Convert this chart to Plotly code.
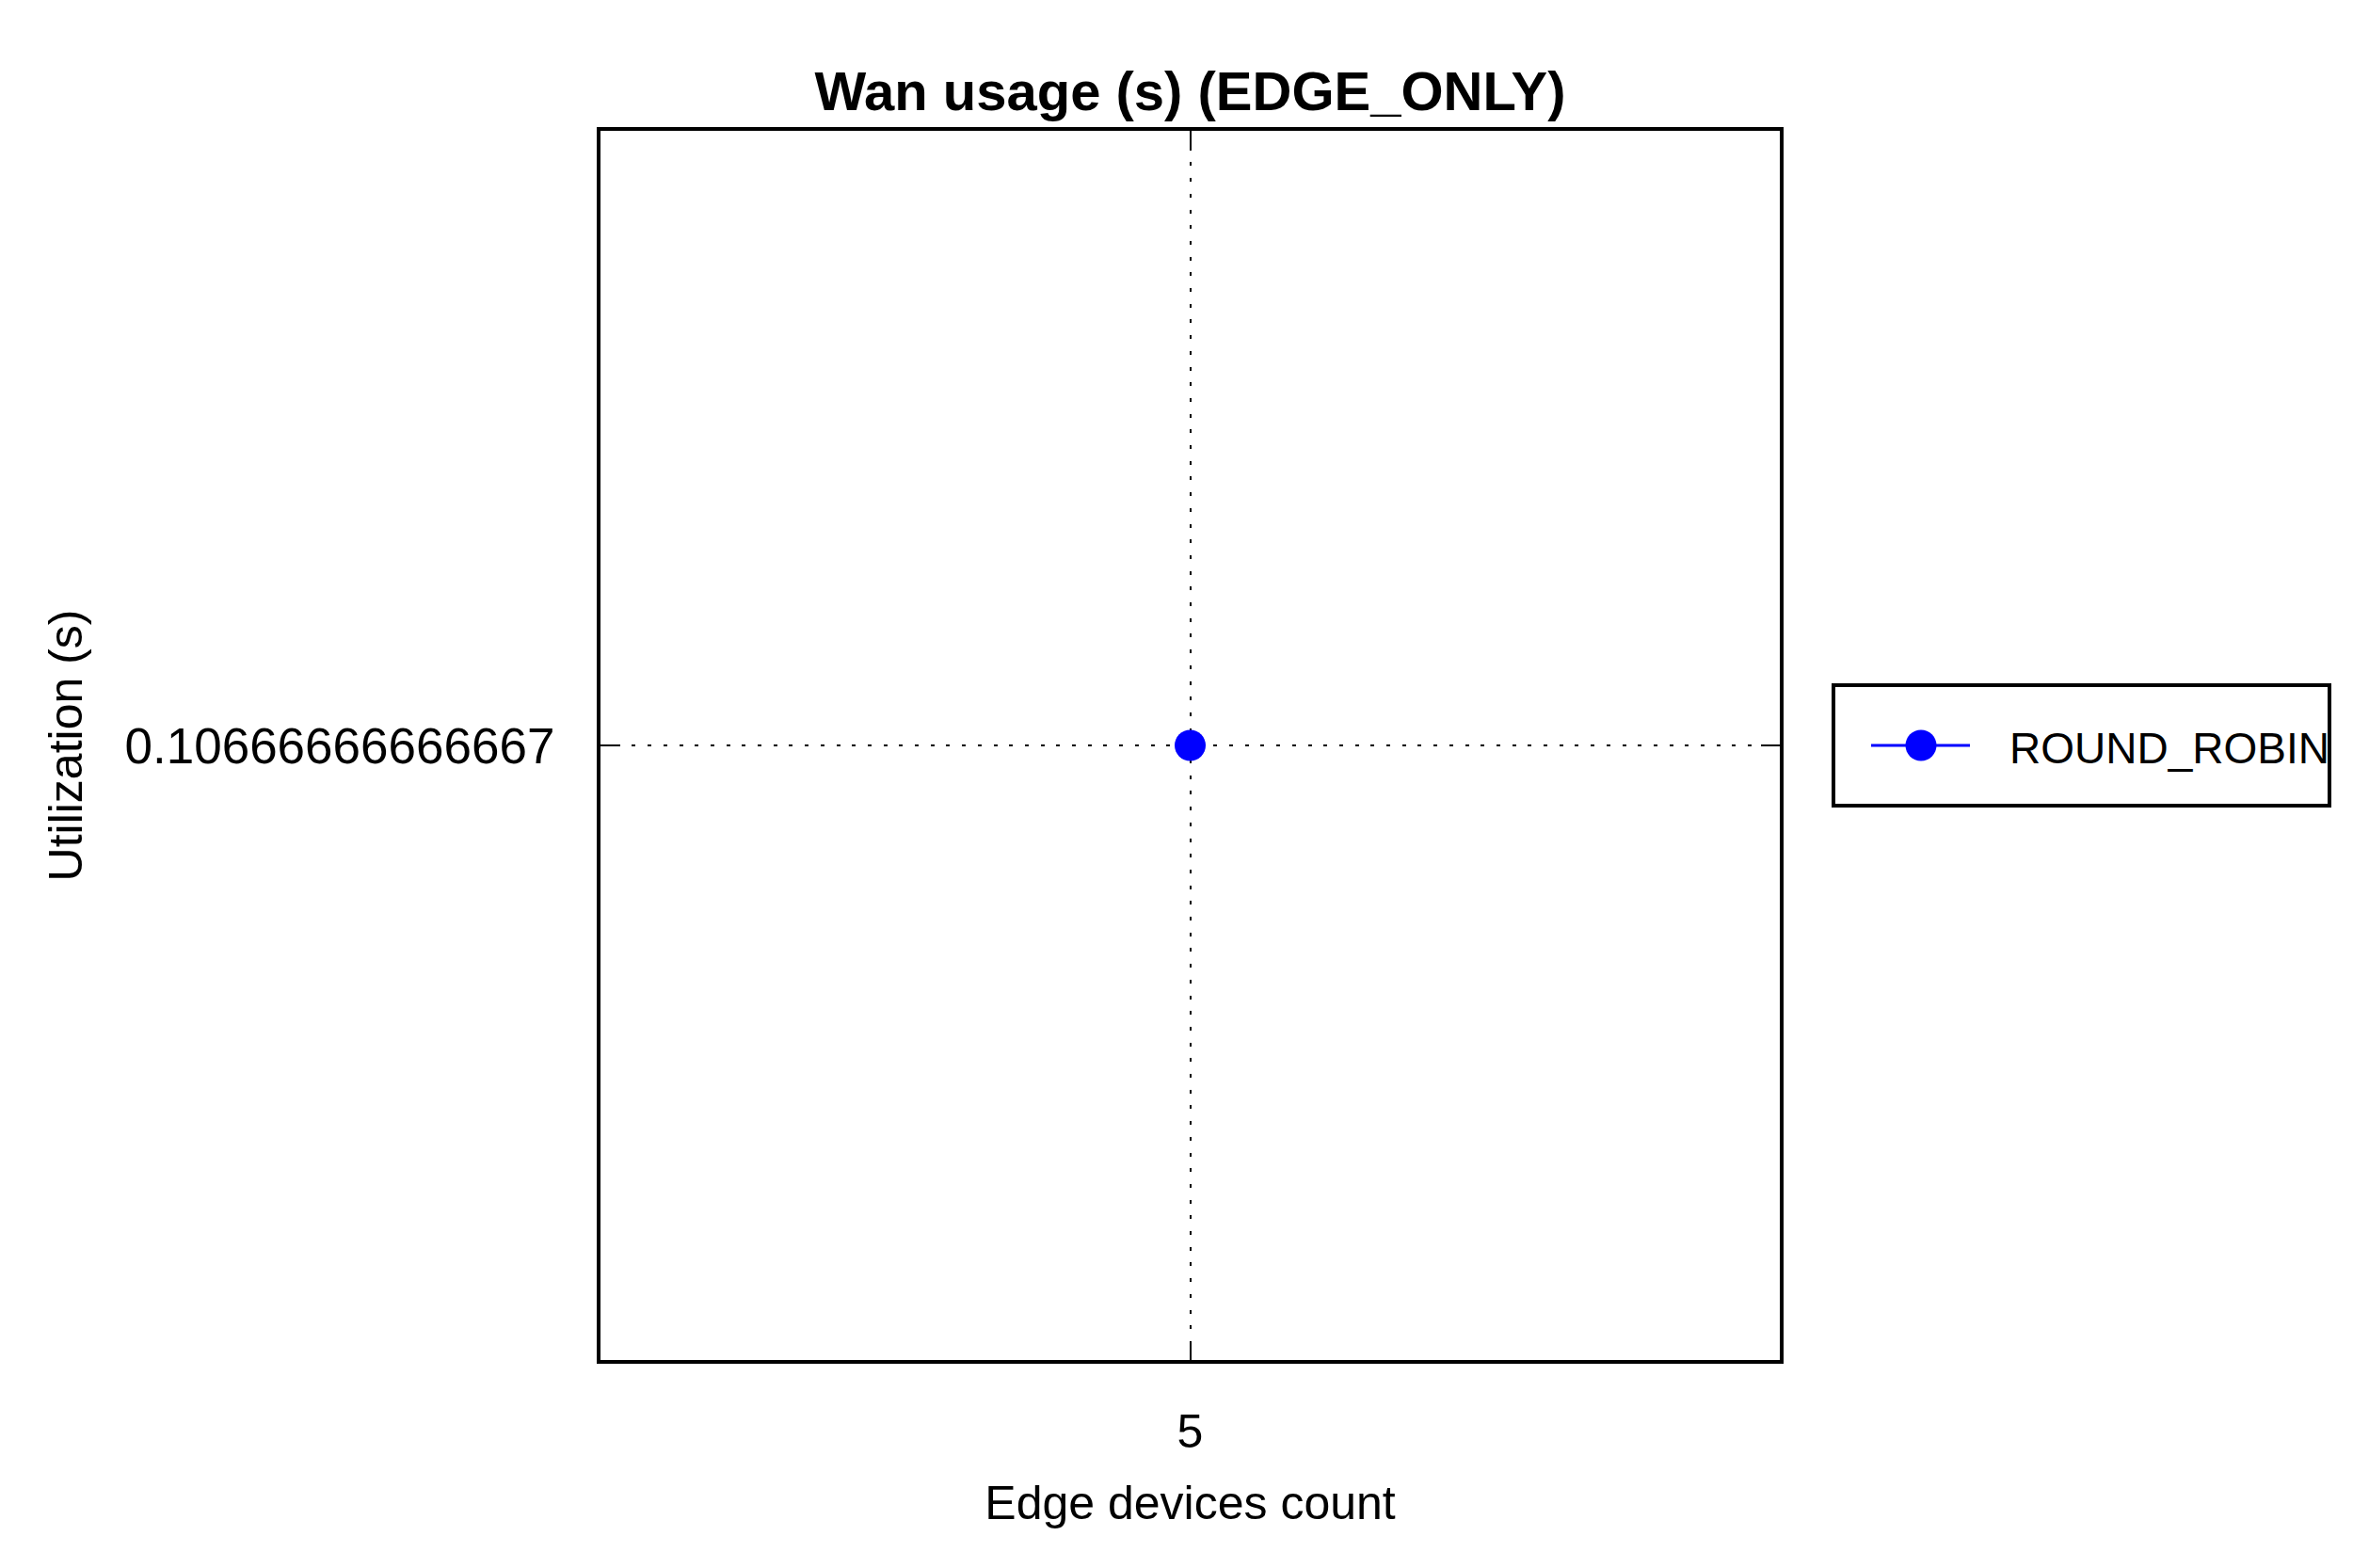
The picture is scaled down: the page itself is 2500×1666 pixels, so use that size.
import plotly.graph_objects as go

# ---- data ----
edge_devices = [5]
round_robin = [0.10666666666667]
series_name = "ROUND_ROBIN"
x_tick_labels = ["5"]
y_tick_labels = ["0.10666666666667"]

title_text = "Wan usage (s) (EDGE_ONLY)"
x_title = "Edge devices count"
y_title = "Utilization (s)"

FONT = "Liberation Sans, Arial, sans-serif"
BLUE = "#0000FF"

fig = go.Figure()
fig.add_trace(go.Scatter(
    x=edge_devices, y=round_robin, name=series_name,
    mode="lines+markers",
    line=dict(color=BLUE, width=2),
    marker=dict(color=BLUE, size=33, symbol="circle"),
    showlegend=False,
))

yc = round_robin[0]
axis_common = dict(
    showline=True, linecolor="black", linewidth=4, mirror="ticks",
    ticks="inside", ticklen=20, tickwidth=2, tickcolor="black",
    showgrid=True, gridcolor="black", gridwidth=1.5, griddash="4px,12.7px",
    zeroline=False,
    title_font=dict(family=FONT, size=50, color="black"),
)

fig.update_xaxes(
    range=[edge_devices[0] - 1, edge_devices[0] + 1],
    tickmode="array", tickvals=edge_devices, ticktext=x_tick_labels,
    tickfont=dict(family=FONT, size=50, color="black"),
    title_text=x_title, title_standoff=32, ticklabelstandoff=29,
    **axis_common,
)
fig.update_yaxes(
    range=[yc - 0.01, yc + 0.01],
    tickmode="array", tickvals=round_robin, ticktext=y_tick_labels,
    tickfont=dict(family=FONT, size=53, color="black"),
    title_text=y_title, title_standoff=30, ticklabelstandoff=34,
    **axis_common,
)

# ---- legend box (drawn manually for matching symbol size) ----
W, H = 2500, 1666
ML, MR, MT, MB = 638, 609, 139, 221
PW, PH = W - ML - MR, H - MT - MB


def px_x(p):
    return (p - ML) / PW


def px_y(p):
    return (H - MB - p) / PH


leg_x0, leg_x1, leg_y0, leg_y1 = 1948, 2475, 728, 856
leg_cy = (leg_y0 + leg_y1) / 2
shapes = [
    dict(type="rect", xref="paper", yref="paper",
         x0=px_x(leg_x0), x1=px_x(leg_x1), y0=px_y(leg_y1), y1=px_y(leg_y0),
         line=dict(color="black", width=4), fillcolor="white", layer="above"),
    dict(type="line", xref="paper", yref="paper",
         x0=px_x(1988), x1=px_x(2093), y0=px_y(leg_cy), y1=px_y(leg_cy),
         line=dict(color=BLUE, width=3), layer="above"),
    dict(type="circle", xref="paper", yref="paper",
         xsizemode="pixel", ysizemode="pixel",
         xanchor=px_x(2041), yanchor=px_y(leg_cy),
         x0=-16.5, x1=16.5, y0=-16.5, y1=16.5,
         line=dict(color=BLUE, width=0), fillcolor=BLUE, layer="above"),
]
annotations = [
    dict(text=series_name, xref="paper", yref="paper",
         x=px_x(2133), y=px_y(leg_cy + 3), xanchor="left", yanchor="middle",
         showarrow=False, font=dict(family=FONT, size=46, color="black")),
]

fig.update_layout(
    width=W, height=H,
    margin=dict(l=ML, r=MR, t=MT, b=MB, autoexpand=False),
    paper_bgcolor="white", plot_bgcolor="white",
    title=dict(text="<b>" + title_text + "</b>", x=0.5, xref="paper",
               y=1 - 97 / H, yref="container", yanchor="middle", xanchor="center",
               font=dict(family=FONT, size=58, color="black")),
    shapes=shapes,
    annotations=annotations,
    showlegend=False,
)

fig.write_html("out.html")
